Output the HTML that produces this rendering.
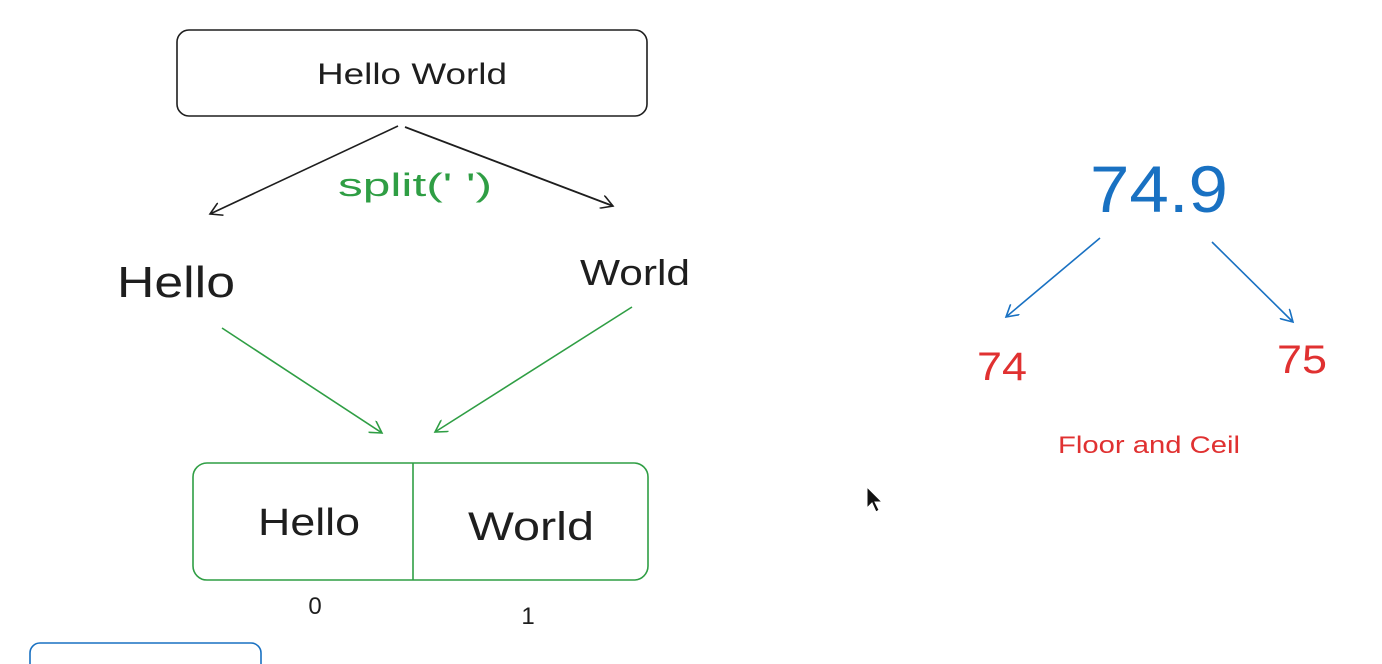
<!DOCTYPE html>
<html><head><meta charset="utf-8"><style>
html,body{margin:0;padding:0;background:#fff;width:1382px;height:664px;overflow:hidden}
svg{display:block}
text{font-family:"Liberation Sans",sans-serif}
</style></head><body>
<svg width="1382" height="664" viewBox="0 0 1382 664">
<defs>
<marker id="ad" markerWidth="14" markerHeight="14" refX="12" refY="7" orient="auto" markerUnits="userSpaceOnUse"><path d="M0,0 L12,7 L0,14" fill="none" stroke="#1e1e1e" stroke-width="1.6"/></marker>
<marker id="ag" markerWidth="14" markerHeight="14" refX="12" refY="7" orient="auto" markerUnits="userSpaceOnUse"><path d="M0,0 L12,7 L0,14" fill="none" stroke="#2f9e44" stroke-width="1.6"/></marker>
<marker id="ab" markerWidth="14" markerHeight="14" refX="12" refY="7" orient="auto" markerUnits="userSpaceOnUse"><path d="M0,0 L12,7 L0,14" fill="none" stroke="#1971c2" stroke-width="1.6"/></marker>
</defs>
<g>
<rect x="177" y="30" width="470" height="86" rx="12" fill="none" stroke="#1e1e1e" stroke-width="1.6"/>
<text x="412" y="84" font-size="30" text-anchor="middle" fill="#1e1e1e" textLength="190" lengthAdjust="spacingAndGlyphs">Hello World</text>
</g>
<line x1="398" y1="126" x2="210" y2="214" stroke="#1e1e1e" stroke-width="1.6" marker-end="url(#ad)"/>
<line x1="405" y1="127" x2="613" y2="206" stroke="#1e1e1e" stroke-width="1.8" marker-end="url(#ad)"/>
<text x="415" y="196" font-size="32" text-anchor="middle" fill="#2f9e44" textLength="154" lengthAdjust="spacingAndGlyphs">split(' ')</text>
<text x="176" y="297" font-size="44" text-anchor="middle" fill="#1e1e1e" textLength="118" lengthAdjust="spacingAndGlyphs">Hello</text>
<text x="635" y="285" font-size="36" text-anchor="middle" fill="#1e1e1e" textLength="110" lengthAdjust="spacingAndGlyphs">World</text>
<line x1="222" y1="328" x2="382" y2="433" stroke="#2f9e44" stroke-width="1.6" marker-end="url(#ag)"/>
<line x1="632" y1="307" x2="435" y2="432" stroke="#2f9e44" stroke-width="1.6" marker-end="url(#ag)"/>
<g>
<rect x="193" y="463" width="455" height="117" rx="14" fill="none" stroke="#2f9e44" stroke-width="1.6"/>
<line x1="413" y1="463" x2="413" y2="580" stroke="#2f9e44" stroke-width="1.6"/>
<text x="309" y="535" font-size="38" text-anchor="middle" fill="#1e1e1e" textLength="102" lengthAdjust="spacingAndGlyphs">Hello</text>
<text x="531" y="540" font-size="40" text-anchor="middle" fill="#1e1e1e" textLength="126" lengthAdjust="spacingAndGlyphs">World</text>
</g>
<text x="315" y="614" font-size="24" text-anchor="middle" fill="#1e1e1e">0</text>
<text x="528" y="624" font-size="24" text-anchor="middle" fill="#1e1e1e">1</text>
<rect x="30" y="643" width="231" height="40" rx="10" fill="none" stroke="#1971c2" stroke-width="1.6"/>
<text x="1159" y="212" font-size="66" text-anchor="middle" fill="#1971c2" textLength="138" lengthAdjust="spacingAndGlyphs">74.9</text>
<line x1="1100" y1="238" x2="1006" y2="317" stroke="#1971c2" stroke-width="1.6" marker-end="url(#ab)"/>
<line x1="1212" y1="242" x2="1293" y2="322" stroke="#1971c2" stroke-width="1.6" marker-end="url(#ab)"/>
<text x="1002" y="380" font-size="40" text-anchor="middle" fill="#e03131" textLength="50" lengthAdjust="spacingAndGlyphs">74</text>
<text x="1302" y="373" font-size="40" text-anchor="middle" fill="#e03131" textLength="50" lengthAdjust="spacingAndGlyphs">75</text>
<text x="1149" y="453" font-size="24" text-anchor="middle" fill="#e03131" textLength="182" lengthAdjust="spacingAndGlyphs">Floor and Ceil</text>
<path d="M867,487 L867,508 L872,503 L876,512 L879,510 L875,502 L882,502 Z" fill="#111" stroke="#fff" stroke-width="1"/>
</svg>
</body></html>
